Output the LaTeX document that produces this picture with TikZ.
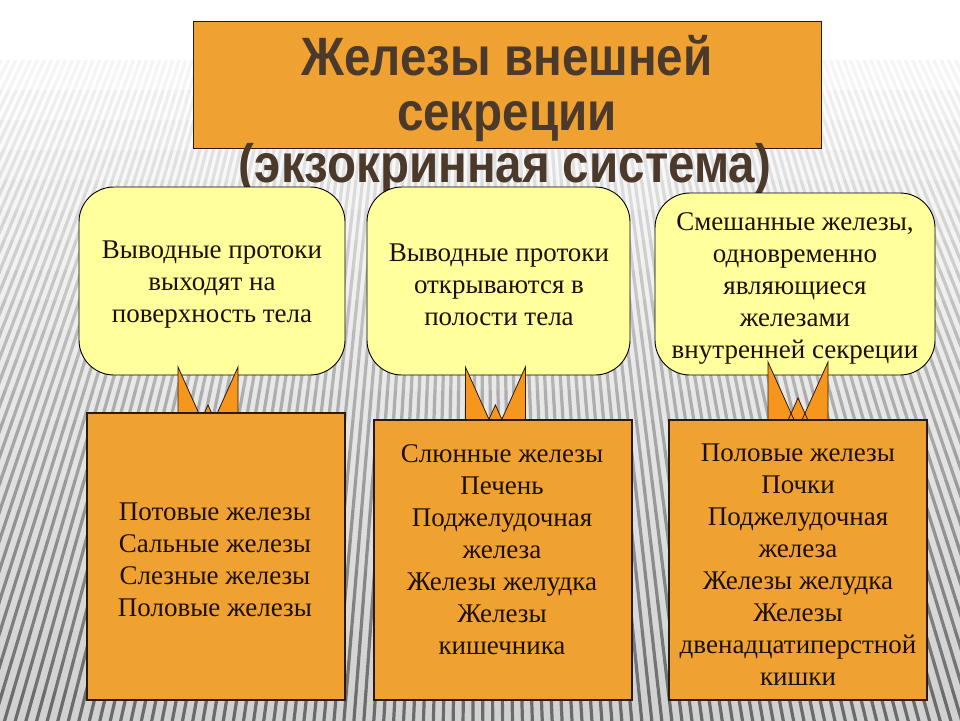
\documentclass[tikz,border=0pt]{standalone}
\usepackage{fontspec}
\setmainfont{Liberation Serif}
\newfontfamily\headfont{Liberation Sans}
\usetikzlibrary{calc}
\definecolor{boxorange}{HTML}{EFA232}
\definecolor{calloutyellow}{HTML}{FFFF9C}
\definecolor{connorange}{HTML}{F7961C}
\definecolor{titlebrown}{HTML}{4B392B}
\definecolor{textdark}{HTML}{1E0F05}
\definecolor{edgedark}{HTML}{2B1A0A}
\newcommand\wfill[4]{%
  \fill[connorange] (#1-30,#2) -- (#1-30,#4) -- ({#1-30+0.45*(#4-#2)},#4) -- cycle;
  \fill[connorange] (#1+30,#2) -- (#1+30,#4) -- ({#1+30-0.45*(#4-#2)},#4) -- cycle;
  \fill[connorange] (#1,#3) -- ({#1-0.45*(#4-#3)},#4) -- ({#1+0.45*(#4-#3)},#4) -- cycle;
  \draw[connline] (#1-30,#2) -- (#1-30,#4) -- ({#1-30+0.45*(#4-#2)},#4) -- cycle;
  \draw[connline] (#1+30,#2) -- (#1+30,#4) -- ({#1+30-0.45*(#4-#2)},#4) -- cycle;
  \draw[connline] (#1,#3) -- ({#1-0.45*(#4-#3)},#4) -- ({#1+0.45*(#4-#3)},#4) -- cycle;
}
\begin{document}
\begin{tikzpicture}[x=1pt,y=-1pt,
  headbox/.style={draw=edgedark, line width=1pt, fill=boxorange, inner sep=0pt, outer sep=0pt},
  headtext/.style={text=titlebrown, font=\fontsize{54}{60}\selectfont\headfont\bfseries, inner sep=0pt, anchor=base},
  callout/.style={draw=black, line width=0.9pt, fill=calloutyellow, rounded corners=35pt, inner sep=0pt, outer sep=0pt},
  listbox/.style={draw=edgedark, line width=1.1pt, fill=boxorange, inner sep=0pt, outer sep=0pt},
  bodytext/.style={text=textdark, font=\fontsize{27}{32}\selectfont, align=center, inner sep=0pt},
  connline/.style={draw=edgedark, line width=0.8pt, line join=miter}]
\useasboundingbox (0,0) rectangle (960,720);
\fill[white] (0,0) rectangle (960,720);
% striped background
\foreach \k in {0,...,21} {
  \pgfmathsetmacro\ya{60+30*\k}
  \pgfmathsetmacro\yb{\ya+30.6}
  \pgfmathsetmacro\sc{4+54*\k/21}
  \pgfmathsetmacro\bc{18*\k/21}
  \begin{scope}
    \clip (0,\ya) rectangle (960,\yb);
    \fill[black!\bc] (0,\ya) rectangle (960,\yb);
    \draw[black!\sc, line width=3.2pt] \foreach \a in {-30,-29.65,...,30} {(480,-900) -- ++({1800*sin(\a)},{1800*cos(\a)})};
  \end{scope}
}
% title
\node[headbox, minimum width=628pt, minimum height=127pt] (head) at (507,84.5) {};
\node[headtext] (t1) at (507,75) {\scalebox{0.88}[1]{Железы внешней}};
\node[headtext] (t2) at (507,130) {\scalebox{0.88}[1]{секреции}};
\node[headtext] (t3) at (505,182) {\scalebox{0.88}[1]{(экзокринная система)}};
% callouts
\node[callout, minimum width=266pt, minimum height=188pt] (c1) at (212,281) {};
\node[callout, minimum width=263pt, minimum height=188pt] (c2) at (498.5,281) {};
\node[callout, minimum width=280pt, minimum height=182pt] (c3) at (795,284) {};
\node[bodytext] (c1t) at (212,285) {Выводные протоки\\выходят на\\поверхность тела};
\node[bodytext] (c2t) at (499,284.5) {Выводные протоки\\открываются в\\полости тела};
\node[bodytext] (c3t) at (795,288) {Смешанные железы,\\одновременно\\являющиеся\\железами\\внутренней секреции};
% connectors
\wfill{208}{367}{405}{416}
\wfill{495.4}{367}{405}{423}
\wfill{798}{362}{398}{423}
% lists
\node[listbox, minimum width=258pt, minimum height=287pt] (b1) at (216,556.5) {};
\node[listbox, minimum width=258pt, minimum height=280pt] (b2) at (503,560) {};
\node[listbox, minimum width=258pt, minimum height=280pt] (b3) at (798,560) {};
\node[bodytext] (b1t) at (215,560) {Потовые железы\\Сальные железы\\Слезные железы\\Половые железы};
\node[bodytext] (b2t) at (502,550) {Слюнные железы\\Печень\\Поджелудочная\\железа\\Железы желудка\\Железы\\кишечника};
\node[bodytext] (b3t) at (798,564.5) {Половые железы\\Почки\\Поджелудочная\\железа\\Железы желудка\\Железы\\двенадцатиперстной\\кишки};
\end{tikzpicture}
\end{document}
